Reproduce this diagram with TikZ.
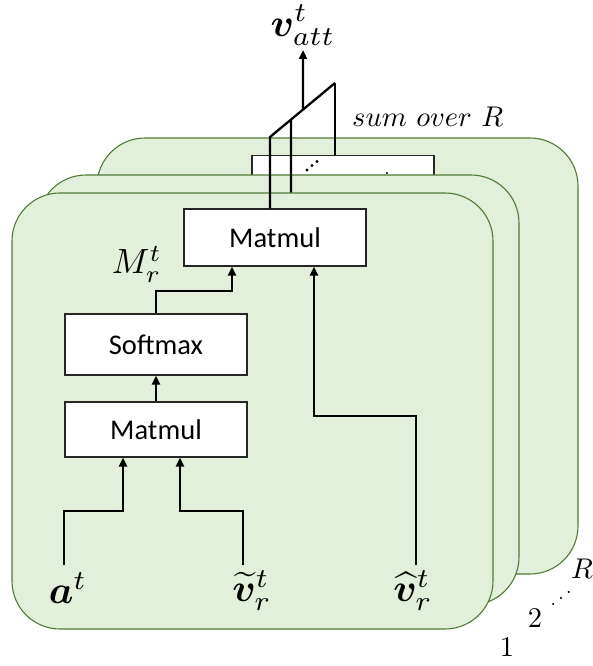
\documentclass[tikz,border=0pt]{standalone}
\usepackage{bm}
\usepackage{fontspec}
\newfontfamily\calib{Carlito}
\usetikzlibrary{arrows.meta,calc}
\definecolor{panelfill}{HTML}{E2EFDA}
\definecolor{paneldraw}{HTML}{507A35}

% math labels are set at 10pt and enlarged
\newcommand\lblbig[1]{\scalebox{3.9}{$#1$}}
\newcommand\lblmid[1]{\scalebox{3.5}{$#1$}}
\newcommand\lblsmall[1]{\scalebox{2.85}{$#1$}}

\tikzset{
  panel/.style={draw=paneldraw, fill=panelfill, line width=1.1pt, rounded corners=48pt},
  blk/.style={draw=black!85, fill=white, line width=1.2pt, inner sep=0pt,
              font=\calib\fontsize{28.5}{30}\selectfont},
  wire/.style={line width=2.3pt, black},
  arr/.style={wire, -{Triangle[length=9pt,width=8pt]}},
  lab/.style={inner sep=0pt},
}

\begin{document}
\begin{tikzpicture}[x=1pt, y=-1pt]
  \useasboundingbox (0,0) rectangle (593,666);

  % back panel (head R) with its output block
  \draw[panel] (97,138) rectangle (578,574);
  \node[blk, minimum width=182, minimum height=50, anchor=north] (mmR) at (343,155) {};
  \fill (307,170) circle (1.6) (312,165.5) circle (1.6) (317,161.5) circle (1.6);
  \fill (387,173) circle (1.1);

  % summation rail over the heads
  \coordinate (d1) at (270,137);
  \coordinate (d3) at (335,83);
  \coordinate (d2) at ($(d1)!21/65!(d3)$);
  \coordinate (ds) at ($(d1)!33/65!(d3)$);
  \draw[wire] (d3) -- ([xshift=-8]mmR.north);

  % middle panel (head 2)
  \draw[panel] (38,175) rectangle (519,605);
  \coordinate (top2) at (291,193);
  \draw[wire] (d2) -- (top2);

  % front panel (head 1)
  \draw[panel] (12,193) rectangle (493,629);

  \node[blk, minimum width=182, minimum height=57] (mmtop) at (275,237.5) {Matmul};
  \node[blk, minimum width=182, minimum height=61] (smax) at (156,344.5) {Softmax};
  \node[blk, minimum width=182, minimum height=55] (mmlow) at (156,429.5) {Matmul};

  \node[lab, anchor=north] (a) at (68,572) {\lblbig{\bm{a}^t}};
  \node[lab, anchor=north] (vt) at (252,570) {\lblbig{\widetilde{\bm{v}}_r^t}};
  \node[lab, anchor=north] (vh) at (413,570) {\lblbig{\widehat{\bm{v}}_r^t}};
  \node[lab, anchor=north] (M) at (137,246) {\lblmid{M_r^t}};
  \node[lab, anchor=north] (vatt) at (303,5) {\lblbig{\bm{v}_{att}^t}};
  \node[lab, anchor=west] (sum) at (352,117) {\lblsmall{sum\ over\ R}};

  % inputs of the lower Matmul
  \coordinate (ain) at (64,565);
  \coordinate (vtin) at (243,565);
  \coordinate (vhin) at (416,565);
  \draw[arr] (ain) -- (64,511) -| ([xshift=-33]mmlow.south);
  \draw[arr] (vtin) -- (243,511) -| ([xshift=24]mmlow.south);
  \draw[arr] (mmlow.north) -- (smax.south);
  \draw[arr] (smax.north) -- (156,291) -| ([xshift=-43]mmtop.south);
  \draw[arr] (vhin) -- (416,416) -| ([xshift=39]mmtop.south);

  % outputs gathered and summed
  \draw[wire] ([xshift=-5]mmtop.north) -- (d1) -- (d3);
  \draw[arr] (ds) -- (303,50);

  % head indices
  \node[lab] (n1) at (507,647) {\lblsmall{1}};
  \node[lab] (n2) at (535,618) {\lblsmall{2}};
  \node[lab] (ndots) at (561,592) {\reflectbox{\scalebox{2}{$\ddots$}}};
  \node[lab] (nR) at (582,569) {\lblsmall{R}};
\end{tikzpicture}
\end{document}
